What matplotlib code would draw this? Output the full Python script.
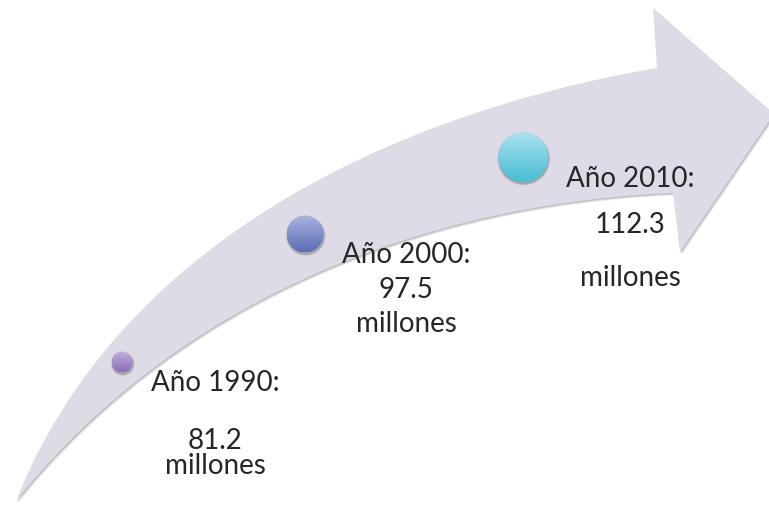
import numpy as np
import matplotlib
matplotlib.use("Agg")
import matplotlib.pyplot as plt
from matplotlib.path import Path
from matplotlib.patches import PathPatch, Circle

# ---- data ----
years = [1990, 2000, 2010]
values = [81.2, 97.5, 112.3]
unit = "millones"

# ---- layout (pixel space, y downwards) ----
circle_xy = [(122, 362), (305, 234), (523, 157)]
circle_r = [10.5, 18.5, 25]
circle_top = ["#c3b1de", "#abb5df", "#aae1ef"]
circle_bot = ["#8a6db9", "#5a6db6", "#48bdd5"]
label_x = [215, 406, 630]
label_base = [(391, 449, 474), (263, 298, 332), (187, 233, 286)]

upper_pts = [(16, 501), (43, 451), (83, 384), (133, 315), (200, 256),
             (283, 197), (350, 166), (440, 128), (540, 93), (657, 68)]
lower_pts = [(16, 501), (43, 473), (83, 433), (133, 387), (200, 333),
             (290, 280), (390, 245), (510, 217), (673, 193)]
head_pts = [(653, 8), (774, 114), (680, 252)]


def bezier_fit(points, n=200):
    """Least-squares cubic Bezier through fixed end points."""
    pts = np.array(points, float)
    d = np.r_[0, np.cumsum(np.hypot(*np.diff(pts, axis=0).T))]
    t = d / d[-1]
    p0, p3 = pts[0], pts[-1]
    b0 = (1 - t) ** 3
    b1 = 3 * (1 - t) ** 2 * t
    b2 = 3 * (1 - t) * t ** 2
    b3 = t ** 3
    A = np.c_[b1, b2]
    rhs = pts - np.outer(b0, p0) - np.outer(b3, p3)
    sol, *_ = np.linalg.lstsq(A, rhs, rcond=None)
    p1, p2 = sol
    s = np.linspace(0, 1, n)[:, None]
    return ((1 - s) ** 3) * p0 + 3 * (1 - s) ** 2 * s * p1 + 3 * (1 - s) * s ** 2 * p2 + s ** 3 * p3


W, H = 769, 507
fig = plt.figure(figsize=(W / 100, H / 100), dpi=100)
ax = fig.add_axes([0, 0, 1, 1])
ax.set_xlim(0, W)
ax.set_ylim(H, 0)
ax.set_aspect("equal")
ax.axis("off")

up = bezier_fit(upper_pts)
lo = bezier_fit(lower_pts)
outline = np.vstack([up, np.array(head_pts, float), lo[::-1]])
codes = [Path.MOVETO] + [Path.LINETO] * (len(outline) - 1) + [Path.CLOSEPOLY]
verts = np.vstack([outline, outline[:1]])

# shadow
for dx, dy, a in [(2.2, 2.6, 0.10), (1.5, 1.8, 0.18), (0.8, 1.0, 0.25)]:
    sh = PathPatch(Path(verts + np.array([dx, dy]), codes), facecolor="#6f6f6f",
                   edgecolor="none", alpha=a, zorder=1)
    ax.add_patch(sh)
arrow = PathPatch(Path(verts, codes), facecolor="#dedbe7", edgecolor="none", zorder=2)
ax.add_patch(arrow)

# circles with gradient
for (cx, cy), r, ct, cb in zip(circle_xy, circle_r, circle_top, circle_bot):
    for dr, a in [(2.5, 0.08), (1.5, 0.14), (0.6, 0.22)]:
        ax.add_patch(Circle((cx + 0.8, cy + 2.0), r + dr * 0.6, facecolor="#505050",
                            edgecolor="none", alpha=a, zorder=3))
    c0 = np.array(matplotlib.colors.to_rgb(ct))
    c1 = np.array(matplotlib.colors.to_rgb(cb))
    tt = np.linspace(0, 1, 100)[:, None]
    grad = (c0 * (1 - tt) + c1 * tt)[:, None, :].repeat(2, axis=1)
    im = ax.imshow(grad, extent=(cx - r, cx + r, cy + r, cy - r), origin="upper",
                   interpolation="bilinear", zorder=4, aspect="auto")
    clip = Circle((cx, cy), r, transform=ax.transData)
    im.set_clip_path(clip)

ax.set_xlim(0, W)
ax.set_ylim(H, 0)

font = "Lato"
fs = 20
tc = "#262626"
for x, yr, v, (b1, b2, b3) in zip(label_x, years, values, label_base):
    ax.text(x, b1, f"Año {yr}:", ha="center", va="baseline", fontsize=fs,
            family=font, color=tc, zorder=6)
    ax.text(x, b2, f"{v}", ha="center", va="baseline", fontsize=fs,
            family=font, color=tc, zorder=6)
    ax.text(x, b3, unit, ha="center", va="baseline", fontsize=fs,
            family=font, color=tc, zorder=6)

fig.savefig("out.png", dpi=100)
